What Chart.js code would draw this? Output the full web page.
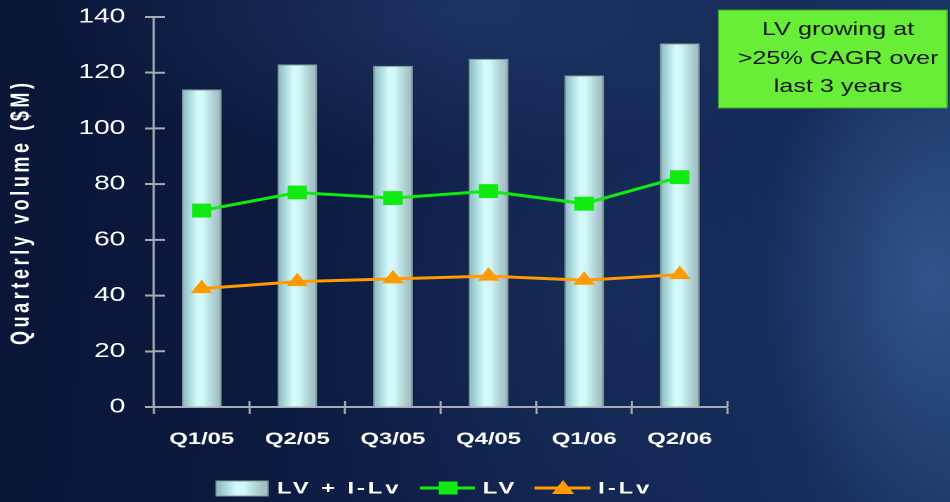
<!DOCTYPE html>
<html>
<head>
<meta charset="utf-8">
<script src="https://cdn.jsdelivr.net/npm/chart.js@4/dist/chart.umd.min.js"></script>
<style>
  html, body { margin: 0; padding: 0; }
  body {
    width: 950px; height: 502px; overflow: hidden; position: relative;
    background:
      radial-gradient(ellipse 170px 260px at 930px 280px, rgba(70,110,170,0.55), rgba(70,110,170,0) 100%),
      radial-gradient(ellipse 420px 160px at 470px 10px, rgba(45,75,130,0.45), rgba(45,75,130,0) 100%),
      radial-gradient(ellipse 300px 300px at 600px 300px, rgba(30,55,105,0.35), rgba(30,55,105,0) 100%),
      linear-gradient(95deg, #0a1536 0%, #0c1a40 30%, #11244e 60%, #142a58 80%, #1b3767 100%);
  }
  /* the slide is rendered narrow and widened, which gives its text and markers their broad look */
  #wrap { position: absolute; left: 0; top: 0; width: 679px; height: 502px;
          transform: scaleX(1.39912); transform-origin: 0 0; }
</style>
</head>
<body>
<div id="wrap"><canvas id="c" width="679" height="502"></canvas></div>
<script>
// Quarterly volumes, $M
const quarters = ['Q1/05', 'Q2/05', 'Q3/05', 'Q4/05', 'Q1/06', 'Q2/06'];
const totalVolume = [114, 123, 122.5, 125, 119, 130.5];   // LV + I-Lv
const lvVolume = [70.5, 77, 75, 77.5, 73, 82.5];           // LV
const ilvVolume = [42.5, 45, 46, 47, 45.5, 47.5];          // I-Lv
const seriesNames = ['LV + I-Lv', 'LV', 'I-Lv'];
const yTicks = { min: 0, max: 140, step: 20 };
const axisTitle = 'Quarterly volume ($M)';
const noteLines = ['LV growing at', '>25% CAGR over', 'last 3 years'];

const FONT = '"Liberation Sans", Arial, Helvetica, sans-serif';
const AXIS_GRAY = '#a7abb1';
const GREEN = '#10ea10';
const ORANGE = '#ff9a00';
const BAR_PCT = 0.417;

function cylinderGradient(c, x0, x1) {
  const g = c.createLinearGradient(x0, 0, x1, 0);
  g.addColorStop(0.00, '#8bb8bc');
  g.addColorStop(0.18, '#a8d8db');
  g.addColorStop(0.40, '#d6fcfd');
  g.addColorStop(0.55, '#d0f6f7');
  g.addColorStop(0.80, '#afd0d3');
  g.addColorStop(1.00, '#9db8bc');
  return g;
}

function barFill(ctx) {
  const chart = ctx.chart;
  const xs = chart.scales.x;
  if (ctx.type !== 'data' || !xs || !isFinite(xs.left) || xs.right <= xs.left) return '#c4e8ea';
  const cx = xs.getPixelForValue(ctx.dataIndex);
  const w = (xs.right - xs.left) / quarters.length * BAR_PCT;
  return cylinderGradient(chart.ctx, cx - w / 2, cx + w / 2);
}

// tick marks that cross the axis lines (Chart.js only draws the outer half)
const innerTicks = {
  id: 'innerTicks',
  afterDatasetsDraw(chart) {
    const c = chart.ctx, xs = chart.scales.x, ys = chart.scales.y;
    c.save();
    c.strokeStyle = AXIS_GRAY;
    c.lineWidth = 2;
    c.beginPath();
    ys.ticks.forEach(t => {
      const y = ys.getPixelForValue(t.value);
      c.moveTo(ys.right, y); c.lineTo(ys.right + 8, y);
    });
    c.stroke();
    c.lineWidth = 1.5;
    c.beginPath();
    const half = (xs.right - xs.left) / quarters.length / 2;
    for (let i = 0; i <= quarters.length; i++) {
      const x = xs.getPixelForValue(Math.min(i, quarters.length - 1)) + (i === quarters.length ? half : -half);
      c.moveTo(x, xs.top); c.lineTo(x, xs.top - 6);
    }
    c.stroke();
    c.restore();
  }
};

// rotated value-axis title, drawn with wide character spacing
const axisTitleLabel = {
  id: 'axisTitleLabel',
  afterDraw(chart) {
    const c = chart.ctx, area = chart.chartArea;
    const spacing = 3.6;
    c.save();
    c.translate(15.5, (area.top + area.bottom) / 2 + 2);
    c.rotate(-Math.PI / 2);
    c.font = 'bold 18px ' + FONT;
    c.letterSpacing = spacing + 'px';
    c.fillStyle = '#ffffff';
    c.textAlign = 'center';
    c.textBaseline = 'middle';
    c.fillText(axisTitle, spacing / 2, 0);
    c.restore();
  }
};

// legend row under the axis
const legendRow = {
  id: 'legendRow',
  afterDraw(chart) {
    const c = chart.ctx;
    const cy = 488;
    c.save();
    c.font = 'bold 17px ' + FONT;
    c.textBaseline = 'middle';
    c.textAlign = 'left';
    c.letterSpacing = '2.1px';

    // bar swatch
    c.fillStyle = cylinderGradient(c, 154.5, 191.5);
    c.fillRect(154.5, 481, 37, 15);
    c.strokeStyle = '#8a9a9e';
    c.lineWidth = 1;
    c.strokeRect(154.5, 481, 37, 15);
    c.fillStyle = '#ffffff';
    c.fillText(seriesNames[0], 198, cy + 1);

    // LV line + square
    c.strokeStyle = GREEN; c.lineWidth = 3;
    c.beginPath(); c.moveTo(300, cy); c.lineTo(339.5, cy); c.stroke();
    c.fillStyle = GREEN;
    c.fillRect(313.5, cy - 6.5, 13.5, 13);
    c.fillStyle = '#ffffff';
    c.fillText(seriesNames[1], 345, cy + 1);

    // I-Lv line + triangle
    c.strokeStyle = ORANGE; c.lineWidth = 3;
    c.beginPath(); c.moveTo(382, cy); c.lineTo(422, cy); c.stroke();
    c.fillStyle = ORANGE;
    c.beginPath(); c.moveTo(402.4, cy - 8); c.lineTo(410.4, cy + 6); c.lineTo(394.4, cy + 6); c.closePath(); c.fill();
    c.fillStyle = '#ffffff';
    c.fillText(seriesNames[2], 427.5, cy + 1);
    c.restore();
  }
};

// green call-out box in the top right corner
const calloutBox = {
  id: 'calloutBox',
  afterDraw(chart) {
    const c = chart.ctx;
    c.save();
    c.fillStyle = '#68ee36';
    c.fillRect(513.5, 10, 163.5, 98);
    c.strokeStyle = '#3fa02a';
    c.lineWidth = 1;
    c.strokeRect(513.5, 10, 163.5, 98);
    c.fillStyle = '#111111';
    c.font = '18px ' + FONT;
    c.textAlign = 'center';
    c.textBaseline = 'middle';
    const rows = [30, 59, 87];
    noteLines.forEach((t, i) => c.fillText(t, 599, rows[i]));
    c.restore();
  }
};

new Chart(document.getElementById('c'), {
  data: {
    labels: quarters,
    datasets: [
      {
        type: 'bar', label: seriesNames[0], data: totalVolume, order: 2,
        backgroundColor: barFill, borderColor: '#8a9a9e', borderWidth: 1,
        barPercentage: BAR_PCT, categoryPercentage: 1
      },
      {
        type: 'line', label: seriesNames[1], data: lvVolume, order: 1,
        borderColor: GREEN, backgroundColor: GREEN, borderWidth: 3,
        pointStyle: 'rect', pointRadius: 9.8, pointBorderWidth: 0, tension: 0
      },
      {
        type: 'line', label: seriesNames[2], data: ilvVolume, order: 0,
        borderColor: ORANGE, backgroundColor: ORANGE, borderWidth: 3,
        pointStyle: 'triangle', pointRadius: 9, pointBorderWidth: 0, tension: 0
      }
    ]
  },
  options: {
    responsive: false,
    devicePixelRatio: 2,
    animation: false,
    layout: { padding: { left: 0, top: 17, right: 159, bottom: 45 } },
    plugins: { legend: { display: false }, tooltip: { enabled: false } },
    scales: {
      x: {
        type: 'category',
        grid: { offset: true, drawOnChartArea: false, drawTicks: true, tickLength: 7,
                tickColor: AXIS_GRAY, tickWidth: 1.5 },
        border: { display: true, color: AXIS_GRAY, width: 2 },
        ticks: { color: '#ffffff', padding: 15, font: { family: FONT, size: 17, weight: 'bold' } },
        afterFit: s => { s.height = 50; s.paddingLeft = 0; s.paddingRight = 0; }
      },
      y: {
        min: yTicks.min, max: yTicks.max,
        grid: { drawOnChartArea: false, drawTicks: true, tickLength: 6.5, tickColor: AXIS_GRAY, tickWidth: 2 },
        border: { display: true, color: AXIS_GRAY, width: 1.6 },
        ticks: { stepSize: yTicks.step, color: '#ffffff', padding: 14,
                 font: { family: FONT, size: 20 } },
        afterFit: s => { s.width = 110; s.paddingTop = 0; s.paddingBottom = 0; }
      }
    }
  },
  plugins: [innerTicks, axisTitleLabel, legendRow, calloutBox]
});
</script>
</body>
</html>
